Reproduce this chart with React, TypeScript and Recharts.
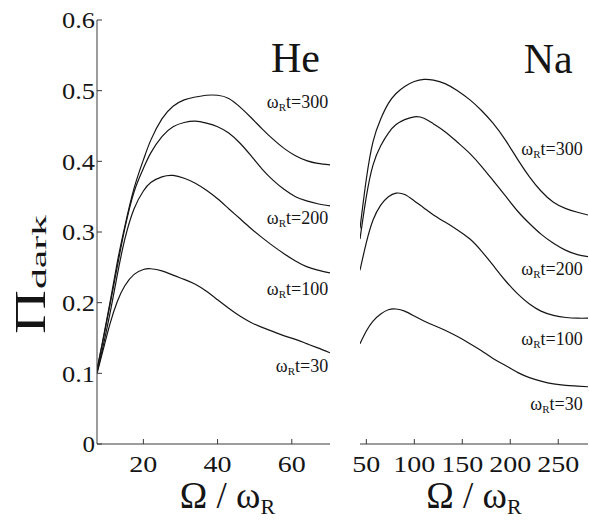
import React from 'react';
import { LineChart, Line, XAxis, YAxis, ReferenceDot } from 'recharts';

const FONT = 'Liberation Serif';
const INK = '#151515';
const AXIS = '#3a3a3a';

// He panel (x = Omega / omega_R)
const heX = [7.5, 9, 11, 13, 15, 17.5, 20, 22, 25, 28, 31, 34, 37, 40, 43, 46, 49, 52, 55, 58, 61, 64, 67, 70.3];
const he300 = [0.105, 0.145, 0.2, 0.258, 0.308, 0.362, 0.402, 0.43, 0.46, 0.478, 0.487, 0.491, 0.4935, 0.4935, 0.489, 0.477, 0.462, 0.446, 0.431, 0.418, 0.408, 0.401, 0.397, 0.395];
const he200 = [0.105, 0.143, 0.197, 0.252, 0.305, 0.357, 0.39, 0.412, 0.435, 0.449, 0.455, 0.457, 0.454, 0.449, 0.44, 0.426, 0.408, 0.389, 0.373, 0.36, 0.35, 0.344, 0.34, 0.337];
const he100 = [0.1, 0.135, 0.185, 0.24, 0.29, 0.333, 0.358, 0.37, 0.378, 0.38, 0.376, 0.369, 0.359, 0.347, 0.333, 0.319, 0.305, 0.292, 0.28, 0.269, 0.259, 0.251, 0.246, 0.242];
const he30 = [0.1, 0.13, 0.17, 0.202, 0.224, 0.24, 0.247, 0.248, 0.245, 0.239, 0.233, 0.226, 0.216, 0.204, 0.192, 0.181, 0.172, 0.165, 0.159, 0.153, 0.148, 0.142, 0.136, 0.129];

// Na panel
const naX = [43.4, 50, 57, 65, 73, 81, 90, 100, 110, 120, 132, 145, 158, 170, 182, 195, 208, 220, 232, 245, 258, 270, 281];
const na300 = [0.305, 0.375, 0.428, 0.46, 0.482, 0.496, 0.506, 0.513, 0.516, 0.515, 0.51, 0.5, 0.487, 0.472, 0.454, 0.43, 0.402, 0.378, 0.358, 0.342, 0.333, 0.328, 0.324];
const na200 = [0.29, 0.35, 0.395, 0.422, 0.44, 0.452, 0.459, 0.463, 0.461, 0.453, 0.442, 0.427, 0.411, 0.393, 0.373, 0.351, 0.329, 0.312, 0.297, 0.284, 0.274, 0.268, 0.265];
const na100 = [0.246, 0.285, 0.317, 0.338, 0.35, 0.355, 0.353, 0.344, 0.334, 0.324, 0.314, 0.303, 0.29, 0.273, 0.253, 0.231, 0.212, 0.198, 0.188, 0.182, 0.179, 0.178, 0.178];
const na30 = [0.142, 0.16, 0.174, 0.184, 0.19, 0.191, 0.188, 0.181, 0.174, 0.168, 0.161, 0.152, 0.142, 0.132, 0.121, 0.111, 0.101, 0.094, 0.089, 0.085, 0.083, 0.082, 0.081];

const heDomain = [7.5, 70.3];
const naDomain = [43.4, 281];
const yDomain = [0, 0.6];
const heXTicks = [20, 40, 60];
const naXTicks = [50, 100, 150, 200, 250];
const yTicks = [0, 0.1, 0.2, 0.3, 0.4, 0.5, 0.6];

const curveKeys = ['t300', 't200', 't100', 't30'];

// curve label anchors (right end, baseline) in data coordinates
const heLabels = [
  { t: '300', x: 69.8, y: 0.476 },
  { t: '200', x: 69.8, y: 0.311 },
  { t: '100', x: 69.8, y: 0.211 },
  { t: '30', x: 69.8, y: 0.102 },
];
const naLabels = [
  { t: '300', x: 275.5, y: 0.409 },
  { t: '200', x: 275.5, y: 0.239 },
  { t: '100', x: 275.5, y: 0.14 },
  { t: '30', x: 275.5, y: 0.048 },
];
const heTitle = { text: 'He', x: 67.6, y: 0.526 };
const naTitle = { text: 'Na', x: 265, y: 0.525 };

const heData = heX.map((x, i) => ({ x, t300: he300[i], t200: he200[i], t100: he100[i], t30: he30[i] }));
const naData = naX.map((x, i) => ({ x, t300: na300[i], t200: na200[i], t100: na100[i], t30: na30[i] }));

const XTick = (props: any) => {
  const { x, y, payload } = props;
  const s = String(payload.value);
  return (
    <text x={x} y={y} dy="0.71em" textAnchor="middle" fontFamily={FONT} fontSize={24} fill={INK}
      textLength={s.length * 14} lengthAdjust="spacingAndGlyphs">
      {s}
    </text>
  );
};

const YTick = (props: any) => {
  const { x, y, payload } = props;
  const s = String(payload.value);
  return (
    <text x={x} y={y} dy="0.35em" textAnchor="end" fontFamily={FONT} fontSize={24} fill={INK}
      textLength={s.length === 1 ? 12.5 : 33} lengthAdjust="spacingAndGlyphs">
      {s}
    </text>
  );
};

const XTitle = (offset: number) => (props: any) => {
  const vb = props.viewBox;
  const cx = vb.x + vb.width / 2 + offset;
  return (
    <text x={cx} y={508} textAnchor="middle" fontFamily={FONT} fontSize={37} fill={INK}>
      Ω / ω<tspan fontSize={22} dy={6}>R</tspan>
    </text>
  );
};

const YTitle = (props: any) => {
  const vb = props.viewBox;
  const bx = vb.x + 8;
  return (
    <g>
      <text x={bx} y={312} transform={`rotate(-90, ${bx}, 312)`} textAnchor="middle" fontFamily={FONT}
        fontSize={44} fill={INK} textLength={44} lengthAdjust="spacingAndGlyphs">Π</text>
      <text x={bx + 1} y={252} transform={`rotate(-90, ${bx + 1}, 252)`} textAnchor="middle" fontFamily={FONT}
        fontSize={20} fill={INK} textLength={74} lengthAdjust="spacingAndGlyphs">dark</text>
    </g>
  );
};

const curveLabelShape = (t: string) => (p: any) => (
  <text x={p.cx} y={p.cy} textAnchor="end" fontFamily={FONT} fontSize={18} fill={INK}>
    ω<tspan fontSize={11} dy={3}>R</tspan><tspan dy={-3}>t={t}</tspan>
  </text>
);

const titleShape = (t: string) => (p: any) => (
  <text x={p.cx} y={p.cy} textAnchor="end" fontFamily={FONT} fontSize={42} fill={INK}>{t}</text>
);

const axisCommon = { stroke: AXIS, tickSize: -5, allowDataOverflow: true } as const;

const renderLines = () =>
  curveKeys.map((k) => (
    <Line key={k} type="natural" dataKey={k} stroke={INK} strokeWidth={1.2} dot={false} activeDot={false}
      isAnimationActive={false} />
  ));

export default function App() {
  return (
    <div style={{ position: 'absolute', left: 0, top: 0, width: 589, height: 521, background: '#fff', fontFamily: FONT }}>
      <div style={{ position: 'absolute', left: 0, top: 0 }}>
        <LineChart width={340} height={521} data={heData} margin={{ top: 20, right: 10, bottom: 0, left: 37 }}>
          <XAxis xAxisId={0} dataKey="x" type="number" domain={heDomain} ticks={heXTicks} orientation="bottom"
            height={77} tickMargin={16} tick={<XTick />} label={{ content: XTitle(14) } as any} {...axisCommon} />
          <XAxis xAxisId="top" type="number" domain={heDomain} ticks={heXTicks} orientation="top" height={0}
            tick={false} {...axisCommon} />
          <YAxis yAxisId={0} type="number" domain={yDomain} ticks={yTicks} width={60} tickMargin={7}
            tick={<YTick />} label={{ content: YTitle } as any} {...axisCommon} />
          <YAxis yAxisId="right" type="number" orientation="right" domain={yDomain} ticks={yTicks} width={0}
            tick={false} {...axisCommon} />
          {renderLines()}
          {heLabels.map((l) => (
            <ReferenceDot key={l.t} x={l.x} y={l.y} r={0} shape={curveLabelShape(l.t)} ifOverflow="visible" />
          ))}
          <ReferenceDot x={heTitle.x} y={heTitle.y} r={0} shape={titleShape(heTitle.text)} ifOverflow="visible" />
        </LineChart>
      </div>
      <div style={{ position: 'absolute', left: 340, top: 0 }}>
        <LineChart width={249} height={521} data={naData} margin={{ top: 20, right: 1, bottom: 0, left: 20 }}>
          <XAxis xAxisId={0} dataKey="x" type="number" domain={naDomain} ticks={naXTicks} orientation="bottom"
            height={77} tickMargin={16} tick={<XTick />} label={{ content: XTitle(0) } as any} {...axisCommon} />
          <XAxis xAxisId="top" type="number" domain={naDomain} ticks={naXTicks} orientation="top" height={0}
            tick={false} {...axisCommon} />
          <YAxis yAxisId={0} type="number" domain={yDomain} ticks={yTicks} width={0} tick={false} {...axisCommon} />
          <YAxis yAxisId="right" type="number" orientation="right" domain={yDomain} ticks={yTicks} width={0}
            tick={false} {...axisCommon} />
          {renderLines()}
          {naLabels.map((l) => (
            <ReferenceDot key={l.t} x={l.x} y={l.y} r={0} shape={curveLabelShape(l.t)} ifOverflow="visible" />
          ))}
          <ReferenceDot x={naTitle.x} y={naTitle.y} r={0} shape={titleShape(naTitle.text)} ifOverflow="visible" />
        </LineChart>
      </div>
    </div>
  );
}
